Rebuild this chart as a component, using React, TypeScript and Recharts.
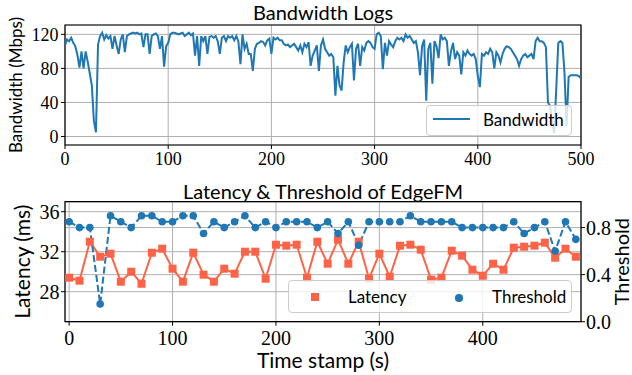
import { CartesianGrid, Legend, Line, LineChart, ReferenceArea, XAxis, YAxis } from 'recharts';

const BLUE = '#1f77b4';
const TOMATO = '#ff6347';
const GRID = '#b0b0b0';
const serif = '"Liberation Serif", serif';
const sans = 'Lato, sans-serif';

// bandwidth log, one reading every 2 s (0..500)
const bwStep = 2;
const bandwidth = [
  107, 114, 112, 116, 110, 106, 96, 81, 100, 80,
  100, 88, 74, 60, 18, 5, 108, 118, 122, 114,
  119, 115, 118, 103, 118, 107, 97, 114, 120, 99,
  118, 120, 121, 122, 121, 122, 120, 121, 105, 120,
  120, 97, 118, 120, 121, 118, 103, 118, 82, 106,
  110, 120, 122, 122, 121, 120, 121, 122, 118, 120,
  122, 119, 121, 95, 118, 83, 118, 112, 118, 97,
  117, 118, 116, 118, 112, 97, 116, 118, 112, 118,
  116, 118, 113, 118, 112, 85, 120, 103, 109, 97,
  97, 77, 103, 109, 110, 112, 111, 107, 113, 115,
  97, 116, 114, 116, 113, 113, 109, 107, 108, 105,
  107, 109, 105, 101, 107, 99, 109, 105, 111, 83,
  95, 101, 107, 77, 107, 114, 103, 99, 95, 97,
  93, 48, 83, 60, 54, 87, 107, 99, 105, 109,
  66, 103, 109, 83, 105, 101, 110, 112, 110, 105,
  103, 120, 122, 118, 79, 110, 95, 112, 108, 105,
  112, 116, 114, 116, 112, 120, 116, 118, 114, 110,
  112, 99, 72, 106, 114, 42, 103, 110, 62, 112,
  106, 92, 120, 114, 116, 112, 83, 100, 110, 91,
  99, 95, 73, 99, 95, 101, 97, 95, 97, 91,
  71, 58, 97, 95, 99, 97, 103, 99, 80, 99,
  95, 87, 97, 103, 106, 105, 103, 99, 95, 91,
  83, 91, 95, 97, 93, 95, 97, 91, 112, 116,
  112, 112, 110, 105, 40, 36, 17, 4, 56, 110,
  112, 110, 75, 12, 70, 72, 72, 72, 72, 71,
  68,
];
const bwXTicks = [0, 100, 200, 300, 400, 500];
const bwYTicks = [0, 40, 80, 120];

const timeStamps = [
  0, 10, 20, 30, 40, 50, 60, 70, 80, 90,
  100, 110, 120, 130, 140, 150, 160, 170, 180, 190,
  200, 210, 220, 230, 240, 250, 260, 270, 280, 290,
  300, 310, 320, 330, 340, 350, 360, 370, 380, 390,
  400, 410, 420, 430, 440, 450, 460, 470, 480, 490,
];
const latency = [
  29.4, 29.1, 33.0, 31.5, 31.8, 29.0, 30.0, 28.8, 31.9, 32.3,
  30.3, 29.0, 31.9, 29.7, 29.0, 30.3, 29.8, 32.0, 32.0, 29.3,
  32.7, 32.6, 32.7, 29.4, 33.0, 30.8, 33.2, 30.8, 33.0, 29.3,
  31.8, 29.5, 32.6, 32.7, 32.2, 29.2, 29.4, 32.1, 31.6, 30.2,
  29.6, 30.8, 30.2, 32.4, 32.5, 32.6, 32.9, 31.4, 32.3, 31.5,
];
const threshold = [
  0.85, 0.8, 0.8, 0.15, 0.9, 0.85, 0.8, 0.9, 0.9, 0.85,
  0.85, 0.9, 0.9, 0.75, 0.85, 0.8, 0.85, 0.9, 0.8, 0.85,
  0.8, 0.85, 0.85, 0.85, 0.8, 0.85, 0.75, 0.85, 0.65, 0.85,
  0.85, 0.85, 0.85, 0.9, 0.85, 0.85, 0.85, 0.85, 0.8, 0.8,
  0.8, 0.8, 0.8, 0.85, 0.75, 0.8, 0.85, 0.6, 0.85, 0.7,
];
const edgeXTicks = [0, 100, 200, 300, 400];
const latTicks = [28, 32, 36];
const thrTicks = [0, 0.4, 0.8];

const bwData = bandwidth.map((v, i) => ({ t: i * bwStep, bw: v }));
const edgeData = timeStamps.map((t, i) => ({ t, latency: latency[i], threshold: threshold[i] }));

const BwLegend = () => (
  <div style={{ boxSizing: 'border-box', width: 146, height: 31, border: '1px solid #cccccc', borderRadius: 4, background: 'rgba(255,255,255,0.8)', position: 'relative', fontFamily: sans, fontSize: 17, color: '#000' }}>
    <div style={{ position: 'absolute', left: 6, top: 12, width: 37, height: 2, background: BLUE }} />
    <span style={{ position: 'absolute', left: 56, top: 4, lineHeight: '20px' }}>Bandwidth</span>
  </div>
);

const EdgeLegend = () => (
  <div style={{ boxSizing: 'border-box', width: 284, height: 33, border: '1px solid #cccccc', borderRadius: 4, background: 'rgba(255,255,255,0.8)', position: 'relative', fontFamily: sans, fontSize: 17, color: '#000' }}>
    <div style={{ position: 'absolute', left: 22, top: 12, width: 8, height: 8, background: TOMATO }} />
    <span style={{ position: 'absolute', left: 59, top: 6, lineHeight: '20px' }}>Latency</span>
    <div style={{ position: 'absolute', left: 166, top: 13, width: 7.5, height: 7.5, borderRadius: '50%', background: BLUE }} />
    <span style={{ position: 'absolute', left: 203, top: 6, lineHeight: '20px' }}>Threshold</span>
  </div>
);

const squareDot = (p: any) => (
  <rect key={'sq' + p.index} x={p.cx - 4} y={p.cy - 4} width={8} height={8} fill={TOMATO} />
);
const circleDot = (p: any) => (
  <circle key={'c' + p.index} cx={p.cx} cy={p.cy} r={3.8} fill={BLUE} />
);

const titleStyle = { position: 'absolute' as const, left: 0, width: 646, textAlign: 'center' as const, fontFamily: sans, fontSize: 20, lineHeight: '20px', color: '#000' };

export default function App() {
  return (
    <div style={{ position: 'absolute', left: 0, top: 0, width: 632, height: 375, background: '#fff', overflow: 'hidden' }}>
      <div style={{ position: 'absolute', left: 0, top: 0 }}>
        <LineChart width={632} height={175} data={bwData} margin={{ top: 25, right: 51, bottom: 0, left: 0 }}>
          <CartesianGrid stroke={GRID} strokeWidth={1} />
          <XAxis dataKey="t" type="number" domain={[0, 500]} ticks={bwXTicks} interval={0} height={30}
            axisLine={false} tickSize={4} tickMargin={3.5} tickLine={{ stroke: '#000' }}
            tick={{ fontFamily: serif, fontSize: 18, fill: '#000' }} />
          <YAxis type="number" domain={[-10, 131]} ticks={bwYTicks} interval={0} width={65}
            axisLine={false} tickSize={4} tickMargin={2.5} tickLine={{ stroke: '#000' }}
            tick={{ fontFamily: serif, fontSize: 18, fill: '#000' }}
            label={{ value: 'Bandwidth (Mbps)', angle: -90, position: 'insideLeft', offset: 16, fill: '#000', style: { textAnchor: 'middle', fontFamily: sans, fontSize: 17 } }} />
          <Line type="linear" dataKey="bw" stroke={BLUE} strokeWidth={2} dot={false} isAnimationActive={false} />
          <ReferenceArea x1={0} x2={500} y1={-10} y2={131} fill="none" stroke="#000" strokeWidth={1.2} ifOverflow="visible" />
          <Legend layout="vertical" align="center" verticalAlign="middle" content={() => <BwLegend />}
            wrapperStyle={{ left: 426, top: 105, width: 146, height: 31 }} />
        </LineChart>
      </div>
      <div style={{ position: 'absolute', left: 0, top: 180 }}>
        <LineChart width={632} height={195} data={edgeData} margin={{ top: 21.7, right: 0, bottom: 0, left: 0 }}>
          <CartesianGrid yAxisId="left" stroke={GRID} strokeWidth={1} />
          <CartesianGrid yAxisId="right" vertical={false} stroke={GRID} strokeWidth={1} />
          <XAxis dataKey="t" type="number" domain={[-4, 495]} ticks={edgeXTicks} interval={0} height={53.3}
            axisLine={false} tickSize={4} tickMargin={5} tickLine={{ stroke: '#000' }}
            tick={{ fontFamily: serif, fontSize: 20, fill: '#000' }}
            label={{ value: 'Time stamp (s)', position: 'insideBottom', offset: 7, fill: '#000', style: { fontFamily: sans, fontSize: 21 } }} />
          <YAxis yAxisId="left" type="number" domain={[25, 37]} ticks={latTicks} interval={0} width={65}
            axisLine={false} tickSize={4} tickMargin={1.5} tickLine={{ stroke: '#000' }}
            tick={{ fontFamily: serif, fontSize: 20, fill: '#000' }}
            label={{ value: 'Latency (ms)', angle: -90, position: 'insideLeft', offset: 23, fill: '#000', style: { textAnchor: 'middle', fontFamily: sans, fontSize: 21 } }} />
          <YAxis yAxisId="right" orientation="right" type="number" domain={[0, 1.02]} ticks={thrTicks} interval={0} width={51}
            axisLine={false} tickSize={4} tickMargin={1} tickLine={{ stroke: '#000' }}
            tickFormatter={(v: number) => v.toFixed(1)}
            tick={{ fontFamily: serif, fontSize: 20, fill: '#000' }}
            label={{ value: 'Threshold', angle: -90, position: 'insideRight', offset: 10, fill: '#000', style: { textAnchor: 'middle', fontFamily: sans, fontSize: 20 } }} />
          <Line yAxisId="left" type="linear" dataKey="latency" stroke={TOMATO} strokeWidth={2} dot={squareDot} isAnimationActive={false} />
          <Line yAxisId="right" type="linear" dataKey="threshold" stroke={BLUE} strokeWidth={2} strokeDasharray="7 3" dot={circleDot} isAnimationActive={false} />
          <ReferenceArea yAxisId="left" x1={-4} x2={495} y1={25} y2={37} fill="none" stroke="#000" strokeWidth={1.2} ifOverflow="visible" />
          <Legend layout="vertical" align="center" verticalAlign="middle" content={() => <EdgeLegend />}
            wrapperStyle={{ left: 288, top: 100, width: 284, height: 33 }} />
        </LineChart>
      </div>
      <div style={{ ...titleStyle, top: 2 }}>Bandwidth Logs</div>
      <div style={{ ...titleStyle, top: 180.5 }}>Latency &amp; Threshold of EdgeFM</div>
    </div>
  );
}
